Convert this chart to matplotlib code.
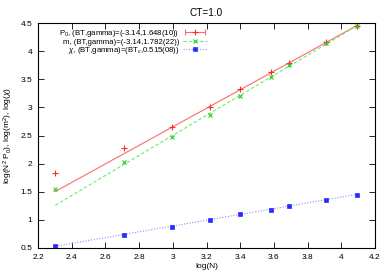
import numpy as np
import matplotlib.pyplot as plt
from matplotlib.lines import Line2D
from matplotlib.legend_handler import HandlerLine2D, HandlerTuple

# data
logN = [2.303, 2.708, 2.996, 3.219, 3.401, 3.584, 3.689, 3.912, 4.094]
P0 = [1.83, 2.27, 2.66, 3.005, 3.32, 3.63, 3.79, 4.17, 4.45]
m2 = [1.55, 2.03, 2.48, 2.87, 3.21, 3.545, 3.75, 4.14, 4.44]
chi = [0.53, 0.73, 0.88, 0.995, 1.10, 1.18, 1.25, 1.345, 1.45]

# fit parameters (slope, intercept)
fit_P0 = (1.648, -2.29)
fit_m2 = (1.782, -2.844)
fit_chi = (0.515, -0.654)

labels = [r"P$_0$, (BT,gamma)=(-3.14,1.648(10))",
          r"m, (BT,gamma)=(-3.14,1.782(22))",
          r"$\chi$, (BT,gamma)=(BT$_c$,0.515(08))"]

red_l, red_p = "#ff6a6a", "#ff2a2a"
grn_l, grn_p = "#66ee66", "#22cc22"
blu_l, blu_p = "#8c8cff", "#2a2aff"

plt.rcParams['font.family'] = 'Liberation Sans'
plt.rcParams['mathtext.fontset'] = 'custom'
plt.rcParams['mathtext.rm'] = 'Liberation Sans'
plt.rcParams['mathtext.it'] = 'Liberation Sans:italic'
plt.rcParams['font.size'] = 6

fig = plt.figure(figsize=(3.89, 2.73), dpi=100)
ax = fig.add_axes([38/389, 25/273, 337/389, 225/273])

xf = np.array([logN[0], logN[-1]])
ax.plot(xf, fit_P0[0]*xf + fit_P0[1], color=red_l, lw=0.8, ls='-')
ax.plot(xf, fit_m2[0]*xf + fit_m2[1], color=grn_l, lw=0.8, ls=(0, (3, 2)))
ax.plot(xf, fit_chi[0]*xf + fit_chi[1], color=blu_l, lw=0.8, ls=(0, (1, 1.5)))

ax.plot(logN, P0, ls='none', marker='+', ms=4, mew=0.8, color=red_p)
ax.plot(logN, m2, ls='none', marker='x', ms=3, mew=0.8, color=grn_p)
ax.plot(logN, chi, ls='none', marker='s', ms=2.2, mew=0.5, color=blu_p)

# legend handles in gnuplot style
caps = Line2D([], [], color=red_l, lw=0.8, marker='|', ms=4, mew=0.8)
plus = Line2D([], [], ls='none', marker='+', ms=4, mew=0.8, color=red_p)
h_m = Line2D([], [], color=grn_l, lw=0.8, ls=(0, (3, 2)),
             marker='x', ms=3, mew=0.8, mec=grn_p)
h_c = Line2D([], [], color=blu_l, lw=0.8, ls=(0, (1, 1.5)),
             marker='s', ms=2.2, mew=0.5, mec=blu_p, mfc=blu_p)
ax.legend([(caps, plus), h_m, h_c], labels, markerfirst=False, frameon=False,
          loc='upper right', bbox_to_anchor=(211/389, 1 - 24/273),
          bbox_transform=fig.transFigure, borderpad=0, handlelength=3.1,
          handletextpad=0.45, labelspacing=-0.1, numpoints=1, fontsize=5.6,
          handler_map={caps: HandlerLine2D(numpoints=2),
                       tuple: HandlerTuple(ndivide=1)})

ax.set_xlim(2.2, 4.2)
ax.set_ylim(0.5, 4.5)
ax.set_xticks(np.arange(2.2, 4.21, 0.2))
ax.set_yticks(np.arange(0.5, 4.51, 0.5))
ax.set_xticklabels(["2.2", "2.4", "2.6", "2.8", "3", "3.2", "3.4", "3.6", "3.8", "4", "4.2"])
ax.set_yticklabels(["0.5", "1", "1.5", "2", "2.5", "3", "3.5", "4", "4.5"])
ax.tick_params(direction='in', top=True, right=True, length=4, width=0.6, pad=4)
for s in ax.spines.values():
    s.set_linewidth(0.8)

ax.set_xlabel("log(N)", labelpad=2)
ax.set_ylabel(r"log(N$^2$ P$_0$), log(m$^2$), log($\chi$)", labelpad=4)
ax.set_title("CT=1.0", pad=5)

fig.savefig("out.png", dpi=100)
